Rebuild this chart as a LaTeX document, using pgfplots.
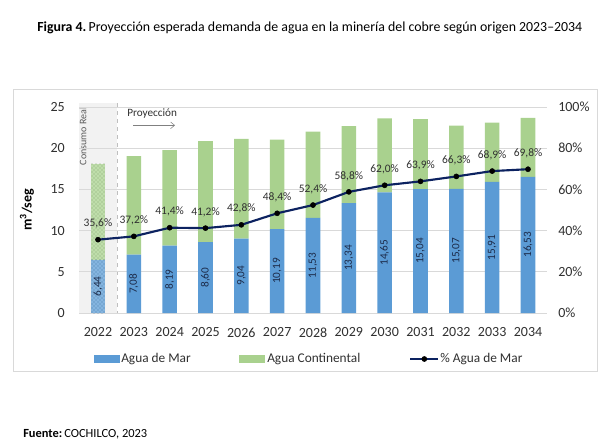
\documentclass[border=0pt]{standalone}
\usepackage{pgfplots}
\pgfplotsset{compat=1.18}
\usepackage{pgfplotstable}
\usepackage{fontspec}
\setmainfont{Carlito}
\usetikzlibrary{patterns,arrows.meta}
\definecolor{mar}{HTML}{5B9BD5}
\definecolor{cont}{HTML}{A9D18E}
\definecolor{navy}{HTML}{0C2260}
\definecolor{gridc}{HTML}{D9D9D9}
\definecolor{txt}{HTML}{303030}
\definecolor{lab}{HTML}{1C2B4A}
\definecolor{graybg}{HTML}{F2F2F2}
\pgfkeys{/pgf/number format/assume math mode=true}

\pgfplotstableread{
x year mar cont pct
0 2022 6.44 11.65 35.6
1 2023 7.08 11.95 37.2
2 2024 8.19 11.59 41.4
3 2025 8.60 12.27 41.2
4 2026 9.04 12.08 42.8
5 2027 10.19 10.86 48.4
6 2028 11.53 10.47 52.4
7 2029 13.34 9.35 58.8
8 2030 14.65 8.98 62.0
9 2031 15.04 8.50 63.9
10 2032 15.07 7.66 66.3
11 2033 15.91 7.18 68.9
12 2034 16.53 7.15 69.8
}\data

\pgfplotsset{
  base/.style={
    at={(59.25pt,98.25pt)}, anchor=south west,
    width=351pt, height=154.5pt, scale only axis,
    xmin=-0.53, xmax=12.53,
    axis line style={draw=none},
    tick style={draw=none},
    major tick length=0pt,
    tick label style={inner sep=0pt, font=\fontsize{10.5}{12}\selectfont, text=txt},
  },
}

\begin{document}
\begin{tikzpicture}
\begin{scope}[x=0.75pt,y=-0.75pt,yshift=333pt]
  \draw[gridc, line width=0.75pt] (13,89) rectangle (597,371);
  \fill[graybg] (79,103) rectangle (117,313);
  \draw[gray!50, dashed, line width=0.6pt] (117,103) -- (117,313);
  \node[rotate=90, anchor=east, inner sep=0pt, text=txt!80, font=\fontsize{7.5}{9}\selectfont] at (83,107) {Consumo Real};
  \node[anchor=west, inner sep=0pt, text=txt, font=\fontsize{8.4}{10}\selectfont] at (127,114) {Proyección};
  \draw[gray, line width=0.4pt, -{Straight Barb[length=3pt,width=5pt]}] (133,125.3) -- (175,125.3);
  \node[anchor=west, inner sep=0pt, text=black] at (37,27.7) {\resizebox{408.75pt}{!}{\fontsize{10}{12}\selectfont\textbf{Figura 4.}\,Proyección esperada demanda de agua en la minería del cobre según origen 2023–2034}};
  \node[anchor=west, inner sep=0pt, text=black] at (23,434) {\resizebox{93pt}{!}{\fontsize{10}{12}\selectfont\textbf{Fuente:}\,COCHILCO, 2023}};
\end{scope}

\begin{axis}[base,
  ybar stacked, bar width=10.9pt,
  ymin=0, ymax=25, ytick={0,5,...,25},
  ymajorgrids, grid style={gridc, line width=0.75pt},
  xtick={0,...,12},
  xticklabels={2022,2023,2024,2025,2026,2027,2028,2029,2030,2031,2032,2033,2034},
  xticklabel shift=10.9pt,
  yticklabel shift=10.5pt,
  ylabel={\textbf{m\textsuperscript{3}/seg}},
  y label style={at={(axis description cs:-0.111,0.5)}, anchor=center, font=\fontsize{10.5}{12}\selectfont, text=black},
  clip=false,
  legend columns=3,
  legend cell align=left,
  legend style={at={(0.0235,-0.2233)}, anchor=west, draw=none, fill=none,
    nodes={inner sep=0pt}, font=\fontsize{10}{12}\selectfont, text=txt,
    /tikz/every even column/.append style={column sep=0pt}},
]
\addplot[fill=mar, draw=none,
  legend image code/.code={\fill[mar] (0pt,-3pt) rectangle (19.5pt,3pt);}]
  table[x=x, y expr={ifthenelse(\thisrow{x}==0,0,\thisrow{mar})}]{\data};
\addlegendentry{\hspace{0.75pt}\makebox[88.5pt][l]{Agua de Mar}}
\addplot[fill=mar!75!white, draw=none, forget plot,
  postaction={pattern=crosshatch dots, pattern color=mar!80!black}]
  table[x=x, y expr={ifthenelse(\thisrow{x}==0,\thisrow{mar},0)}]{\data};
\addplot[fill=cont, draw=none,
  legend image code/.code={\fill[cont] (0pt,-3pt) rectangle (19.5pt,3pt);}]
  table[x=x, y expr={ifthenelse(\thisrow{x}==0,0,\thisrow{cont})}]{\data};
\addlegendentry{\hspace{1.5pt}\makebox[106.5pt][l]{Agua Continental}}
\addplot[fill=cont!75!white, draw=none, forget plot,
  postaction={pattern=crosshatch dots, pattern color=cont!80!black}]
  table[x=x, y expr={ifthenelse(\thisrow{x}==0,\thisrow{cont},0)}]{\data};
\addlegendimage{legend image code/.code={\draw[navy,line width=1.6pt] (0pt,0pt) -- (21pt,0pt); \fill[black] (10.5pt,0pt) circle (1.9pt);}}
\addlegendentry{\hspace{0.75pt}\% Agua de Mar}
\end{axis}

\begin{axis}[base, hide axis, ymin=0, ymax=25]
\addplot[draw=none, point meta=explicit,
  nodes near coords={\pgfmathprintnumber[fixed,fixed zerofill,precision=2,use comma]{\pgfplotspointmeta}},
  every node near coord/.append style={rotate=90, anchor=center, inner sep=0pt, font=\fontsize{8.4}{9}\selectfont, text=lab}]
  table[x=x, y expr=\thisrow{mar}/2, meta=mar]{\data};
\end{axis}

\begin{axis}[base, ymin=0, ymax=100,
  axis y line*=right, axis x line=none,
  ytick={0,20,...,100},
  yticklabel={\pgfmathprintnumber{\tick}\%},
  yticklabel shift=8.25pt,
  clip=false]
\addplot[navy, line width=1.6pt, mark=*, mark size=1.9pt, mark options={black, fill=black, line width=0.4pt},
  nodes near coords={\pgfmathprintnumber[fixed,fixed zerofill,precision=1,use comma]{\pgfplotspointmeta}\%},
  every node near coord/.append style={font=\fontsize{8.6}{10}\selectfont, text=txt, yshift=5pt}]
  table[x=x, y=pct]{\data};
\end{axis}

\pgfresetboundingbox
\path (0,0) rectangle (452.25pt,333pt);
\end{tikzpicture}
\end{document}
